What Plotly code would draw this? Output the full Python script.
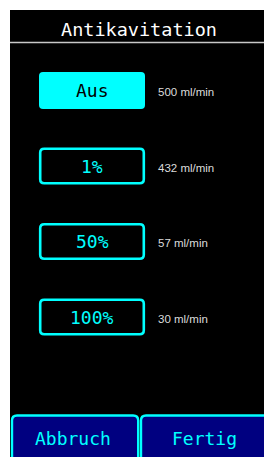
import plotly.graph_objects as go

# Data
title = "Antikavitation"
options = ["Aus", "1%", "50%", "100%"]
flows = ["500 ml/min", "432 ml/min", "57 ml/min", "30 ml/min"]
selected = 0
footer_buttons = ["Abbruch", "Fertig"]

W, H = 264, 457
CYAN = "#00ffff"
NAVY = "#000080"
MONO = "DejaVu Sans Mono"


def rrect(x0, y0, x1, y1, r):
    return (f"M {x0+r},{y0} L {x1-r},{y0} Q {x1},{y0} {x1},{y0+r} "
            f"L {x1},{y1-r} Q {x1},{y1} {x1-r},{y1} L {x0+r},{y1} "
            f"Q {x0},{y1} {x0},{y1-r} L {x0},{y0+r} Q {x0},{y0} {x0+r},{y0} Z")


def tab(x0, y0, x1, y1, r, right_edge=True):
    # open path: left side, top, optionally right side (bottom lies off-screen)
    p = f"M {x0},{y1} L {x0},{y0+r} Q {x0},{y0} {x0+r},{y0} L {x1-r},{y0}"
    if right_edge:
        p += f" Q {x1},{y0} {x1},{y0+r} L {x1},{y1}"
    else:
        p += f" L {x1},{y0} L {x1},{y1}"
    return p


shapes = []
annotations = []

# black screen
shapes.append(dict(type="rect", x0=10, y0=10, x1=W + 40, y1=H + 40,
                   fillcolor="black", line=dict(width=0), layer="below"))
# header line
shapes.append(dict(type="line", x0=10, y0=42.5, x1=W + 40, y1=42.5,
                   line=dict(color="#c8c8c8", width=1.5)))
annotations.append(dict(x=139, y=29, text=title, showarrow=False,
                        font=dict(family=MONO, size=18.5, color="white"),
                        xanchor="center", yanchor="middle"))

# option buttons
for i, (lab, fl) in enumerate(zip(options, flows)):
    cy = 90.5 + i * 75.5
    y0, y1 = cy - 18.5, cy + 18.5
    if i == selected:
        shapes.append(dict(type="path", path=rrect(39, y0, 145, y1, 4),
                           fillcolor=CYAN, line=dict(width=0)))
        col = "black"
    else:
        shapes.append(dict(type="path", path=rrect(40.2, y0 + 1.2, 143.8, y1 - 1.2, 4),
                           fillcolor="black", line=dict(color=CYAN, width=2.6)))
        col = CYAN
    annotations.append(dict(x=92, y=cy, text=lab, showarrow=False,
                            font=dict(family=MONO, size=18, color=col),
                            xanchor="center", yanchor="middle"))
    annotations.append(dict(x=156, y=cy + 1.5, text=fl, showarrow=False,
                            font=dict(family="Liberation Sans", size=11.5, color="#dcdcdc"),
                            xanchor="left", yanchor="middle"))

# footer buttons
shapes.append(dict(type="path", path=tab(12, 415.5, 138.2, 490, 5),
                   fillcolor=NAVY, line=dict(color=CYAN, width=2.4)))
shapes.append(dict(type="path", path=tab(141, 415.5, 400, 490, 5, right_edge=False),
                   fillcolor=NAVY, line=dict(color=CYAN, width=2.4)))
annotations.append(dict(x=73, y=438, text=footer_buttons[0], showarrow=False,
                        font=dict(family=MONO, size=18, color=CYAN),
                        xanchor="center", yanchor="middle"))
annotations.append(dict(x=204, y=438, text=footer_buttons[1], showarrow=False,
                        font=dict(family=MONO, size=18, color=CYAN),
                        xanchor="center", yanchor="middle"))

fig = go.Figure(go.Scatter(x=[0], y=[0], mode="markers", marker=dict(opacity=0),
                           hoverinfo="skip", showlegend=False))
fig.update_layout(
    width=W, height=H, margin=dict(l=0, r=0, t=0, b=0),
    paper_bgcolor="white", plot_bgcolor="white",
    shapes=shapes, annotations=annotations, showlegend=False,
    xaxis=dict(range=[0, W], visible=False, fixedrange=True),
    yaxis=dict(range=[H, 0], visible=False, fixedrange=True),
)
fig.write_html(
    "out.html",
    config={"displayModeBar": False},
    post_script="document.body.style.margin='0';document.body.style.overflow='hidden';"
                "document.documentElement.style.overflow='hidden';",
)
